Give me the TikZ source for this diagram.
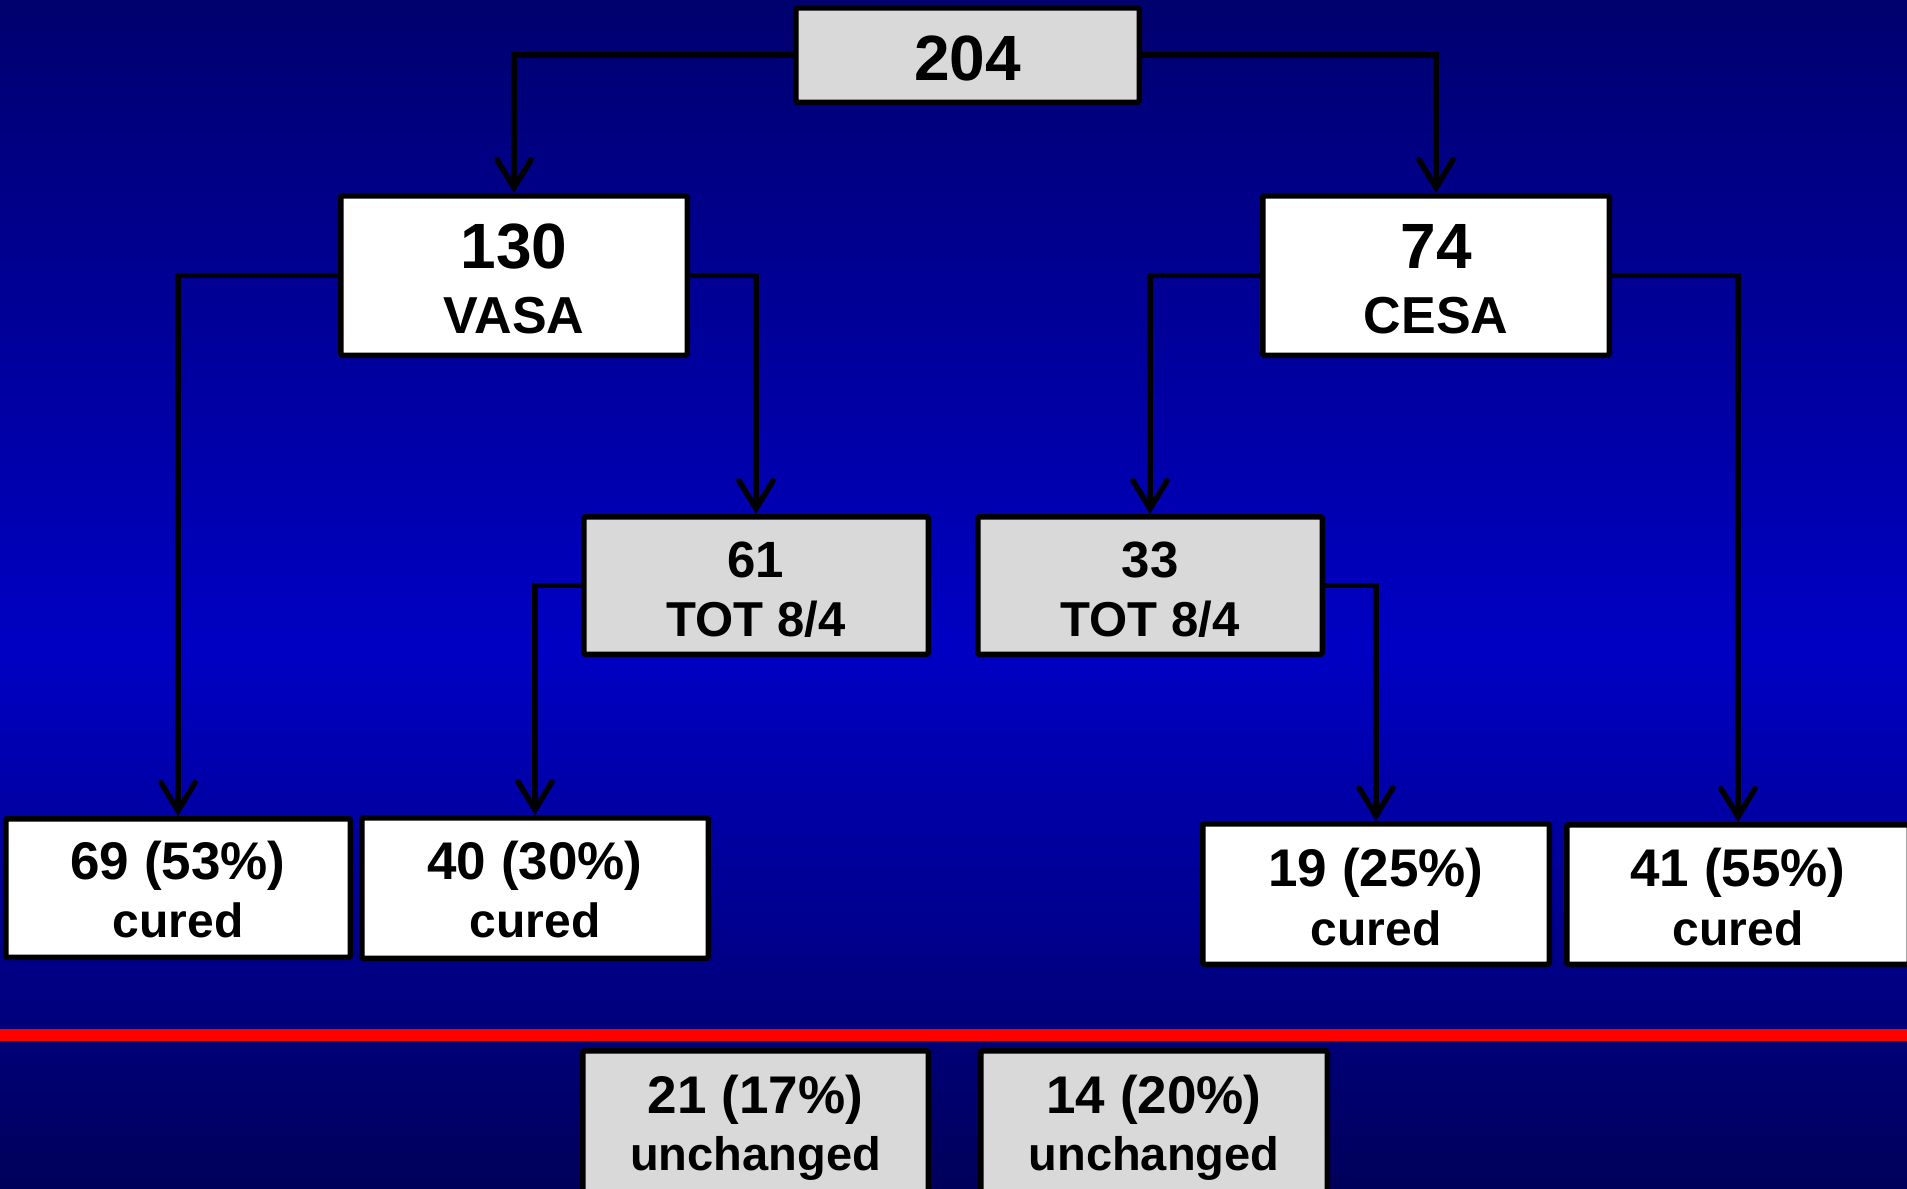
\documentclass[tikz,border=0pt]{standalone}
\usepackage{fontspec}
\setmainfont{Liberation Sans}
\usetikzlibrary{arrows.meta}
\definecolor{navytop}{HTML}{00006E}
\definecolor{bluemid}{HTML}{0000C4}
\definecolor{navybot}{HTML}{00005A}
\definecolor{boxgray}{HTML}{D9D9D9}
\tikzset{
  box/.style={draw=black, line width=5.5pt, rounded corners=1.5pt, inner sep=0pt},
  whitebox/.style={box, fill=white},
  graybox/.style={box, fill=boxgray},
  txt/.style={anchor=base, inner sep=0pt, font=\bfseries\fontsize{#1}{#1}\selectfont},
  conn/.style={line width=5.5pt, -{Straight Barb[length=28pt,width=34pt,line cap=round]}},
}
\begin{document}
\begin{tikzpicture}[x=1pt,y=-1pt]
\useasboundingbox (0,0) rectangle (1907,1189);
\clip (0,0) rectangle (1907,1189);
% background gradient and red divider
\shade[top color=navytop, bottom color=bluemid] (0,0) rectangle (1907,650);
\shade[top color=bluemid, bottom color=navybot] (0,650) rectangle (1907,1189);
\fill[red] (0,1029) rectangle (1907,1041);

% boxes
\node[graybox, minimum width=343.5pt, minimum height=94.5pt] (b204) at (967.5,55) {};
\node[whitebox, minimum width=346.5pt, minimum height=159.5pt] (b130) at (514,275.5) {};
\node[whitebox, minimum width=346.5pt, minimum height=159.5pt] (b74) at (1436,275.5) {};
\node[graybox, minimum width=344.5pt, minimum height=137.5pt] (b61) at (756,585.5) {};
\node[graybox, minimum width=344.5pt, minimum height=137.5pt] (b33) at (1150,585.5) {};
\node[whitebox, minimum width=344.5pt, minimum height=138.5pt] (b69) at (178,888) {};
\node[whitebox, minimum width=346.5pt, minimum height=140.5pt] (b40) at (535,888) {};
\node[whitebox, minimum width=346.5pt, minimum height=140.5pt] (b19) at (1376,894) {};
\node[whitebox, minimum width=342.5pt, minimum height=139.5pt] (b41) at (1738,894.5) {};
\node[graybox, minimum width=345.5pt, minimum height=146.5pt] (b21) at (755.5,1124) {};
\node[graybox, minimum width=346.5pt, minimum height=146.5pt] (b14) at (1154,1124) {};

% connectors
\draw[conn] (b204.west) -| (b130.north);
\draw[conn] (b204.east) -| (b74.north);
\draw[conn] (b130.west) -| (b69.north);
\draw[conn] (b130.east) -| (b61.north);
\draw[conn] (b74.west) -| (b33.north);
\draw[conn] (b74.east) -| (b41.north);
\draw[conn] (b61.west) -| (b40.north);
\draw[conn] (b33.east) -| (b19.north);

% labels
\node[txt=64] (t204) at (967.5,80) {204};
\node[txt=64] (t130a) at (514,268) {130};
\node[txt=52] (t130b) at (514,333) {VASA};
\node[txt=64] (t74a) at (1436,268) {74};
\node[txt=52] (t74b) at (1436,333) {CESA};
\node[txt=51] (t61a) at (756,577) {61};
\node[txt=49] (t61b) at (756,636) {TOT 8/4};
\node[txt=51] (t33a) at (1150,577) {33};
\node[txt=49] (t33b) at (1150,636) {TOT 8/4};
\node[txt=53] (t69a) at (178,879) {69 (53\%)};
\node[txt=48] (t69b) at (178,937) {cured};
\node[txt=53] (t40a) at (535,879) {40 (30\%)};
\node[txt=48] (t40b) at (535,937) {cured};
\node[txt=53] (t19a) at (1376,886) {19 (25\%)};
\node[txt=48] (t19b) at (1376,945) {cured};
\node[txt=53] (t41a) at (1738,886) {41 (55\%)};
\node[txt=48] (t41b) at (1738,945) {cured};
\node[txt=53] (t21a) at (755.5,1113) {21 (17\%)};
\node[txt=47] (t21b) at (755.5,1170) {unchanged};
\node[txt=53] (t14a) at (1154,1113) {14 (20\%)};
\node[txt=47] (t14b) at (1154,1170) {unchanged};
\end{tikzpicture}
\end{document}
